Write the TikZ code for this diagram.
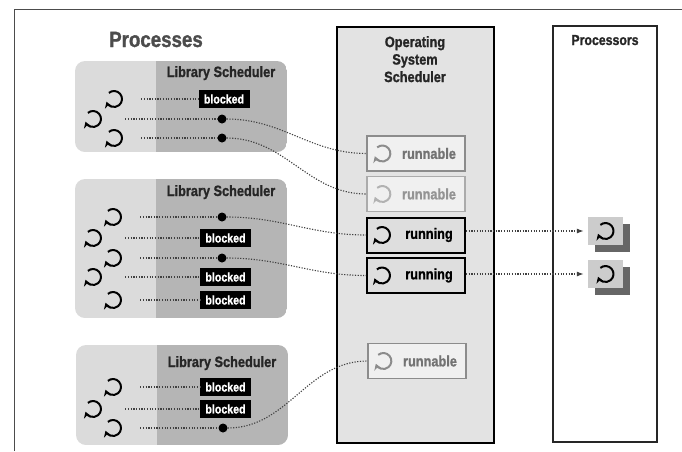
\documentclass[tikz,border=0pt]{standalone}
\usepackage{fontspec}
\newfontfamily\cond{Liberation Sans}[FakeStretch=0.85, BoldFeatures={FakeBold=1.2}]
\usetikzlibrary{arrows.meta,shadows}

\tikzset{
    link/.style={dash pattern=on 1.2pt off 1.5pt, line width=1.1pt, draw=black!75},
    curl/.style={line width=2pt, -{Stealth[length=6pt,width=7.5pt]}},
    pics/thread/.style={code={
        \draw[curl, #1] (130:8) arc[start angle=130, end angle=-160, radius=8];
        \node[circle, inner sep=0, minimum size=18pt] (-c) {};
    }},
    pics/thread/.default=black,
    dot/.style={circle, fill=black, inner sep=0, minimum size=9pt},
    blocked/.style={fill=black, text=white, inner sep=0, minimum width=51pt, minimum height=18pt, font=\cond\bfseries\fontsize{12.5}{14}\selectfont},
    libtitle/.style={anchor=base, text=black!85, font=\cond\bfseries\fontsize{15}{17}\selectfont},
    runbox/.style={draw=black!45, fill=black!6, line width=1.3pt, minimum width=98pt, minimum height=35pt, inner sep=0, text=black!55, font=\cond\bfseries\fontsize{15}{17}\selectfont},
    running/.style={runbox, draw=black, line width=2pt, fill=black!13, text=black},
    cpu/.style={fill=black!20, minimum width=35pt, minimum height=28pt, inner sep=0, drop shadow={shadow xshift=7pt, shadow yshift=-7pt, fill=black!60, opacity=1}},
}

\begin{document}
\begin{tikzpicture}[x=1pt, y=1pt]
    \useasboundingbox (0,0) rectangle (682,-451);
    \draw[black!70, line width=1pt] (14,-451) -- (14,-9) -- (682,-9);

    % columns
    \draw[fill=black!11, line width=1.8pt] (337,-27) rectangle (494,-443);
    \draw[fill=white, draw=black!85, line width=1.8pt] (553,-26) rectangle (657,-442);

    % process boxes
    \begin{scope}
        \clip[rounded corners=10pt] (75,-61) rectangle (287,-152);
        \fill[black!14] (75,-61) rectangle (156,-152);
        \fill[black!29] (156,-61) rectangle (287,-152);
    \end{scope}
    \begin{scope}
        \clip[rounded corners=10pt] (75,-179) rectangle (287,-318);
        \fill[black!14] (75,-179) rectangle (156,-318);
        \fill[black!29] (156,-179) rectangle (287,-318);
    \end{scope}
    \begin{scope}
        \clip[rounded corners=10pt] (76,-345) rectangle (288,-445);
        \fill[black!14] (76,-345) rectangle (157,-445);
        \fill[black!29] (157,-345) rectangle (288,-445);
    \end{scope}

    \node[anchor=base, text=black!70, font=\cond\bfseries\fontsize{22}{24}\selectfont] (proc) at (156,-47) {Processes};
    \node[libtitle] (lib1) at (221,-77) {Library Scheduler};
    \node[libtitle] (lib2) at (221,-196) {Library Scheduler};
    \node[libtitle] (lib3) at (222,-367) {Library Scheduler};
    \node[anchor=north, align=center, inner sep=0, text=black!85, font=\cond\bfseries\fontsize{15}{17.5}\selectfont] (oss) at (415,-36) {Operating\\System\\Scheduler};
    \node[anchor=base, text=black!85, font=\cond\bfseries\fontsize{14.5}{16}\selectfont] (cpus) at (605,-45) {Processors};

    % first process
    \pic (t11) at (114,-99) {thread};
    \pic (t12) at (93,-119) {thread};
    \pic (t13) at (114,-138) {thread};
    \node[blocked] (b11) at (224,-99) {blocked};
    \node[dot] (d12) at (222,-119) {};
    \node[dot] (d13) at (222,-138) {};
    \draw[link, shorten <=18pt] (t11-c) -- (b11);
    \draw[link, shorten <=23pt] (t12-c) -- (d12);
    \draw[link, shorten <=18pt] (t13-c) -- (d13);

    % second process
    \pic (t21) at (113,-217) {thread};
    \pic (t22) at (93,-238) {thread};
    \pic (t23) at (113,-258) {thread};
    \pic (t24) at (93,-277) {thread};
    \pic (t25) at (113,-300) {thread};
    \node[dot] (d21) at (222,-217) {};
    \node[blocked] (b22) at (225.5,-238) {blocked};
    \node[dot] (d23) at (222,-258) {};
    \node[blocked] (b24) at (225.5,-277) {blocked};
    \node[blocked] (b25) at (225.5,-300) {blocked};
    \draw[link, shorten <=18pt] (t21-c) -- (d21);
    \draw[link, shorten <=23pt] (t22-c) -- (b22);
    \draw[link, shorten <=18pt] (t23-c) -- (d23);
    \draw[link, shorten <=23pt] (t24-c) -- (b24);
    \draw[link, shorten <=18pt] (t25-c) -- (b25);

    % third process
    \pic (t31) at (113,-387) {thread};
    \pic (t32) at (93,-409) {thread};
    \pic (t33) at (113,-428) {thread};
    \node[blocked] (b31) at (225.5,-387) {blocked};
    \node[blocked] (b32) at (225.5,-409) {blocked};
    \node[dot] (d33) at (223,-428) {};
    \draw[link, shorten <=18pt] (t31-c) -- (b31);
    \draw[link, shorten <=23pt] (t32-c) -- (b32);
    \draw[link, shorten <=18pt] (t33-c) -- (d33);

    % kernel threads
    \node[runbox] (r1) at (416,-153.5) {\hspace{26pt}runnable};
    \node[runbox, draw=black!33, text=black!42] (r2) at (416,-194) {\hspace{26pt}runnable};
    \node[running] (u1) at (416,-235) {\hspace{26pt}running};
    \node[running] (u2) at (416,-275.5) {\hspace{26pt}running};
    \node[runbox] (r3) at (417,-361) {\hspace{26pt}runnable};
    \pic at ([xshift=16pt]r1.west) {thread=black!45};
    \pic at ([xshift=16pt]r2.west) {thread=black!30};
    \pic at ([xshift=16pt]u1.west) {thread};
    \pic at ([xshift=16pt]u2.west) {thread};
    \pic at ([xshift=16pt]r3.west) {thread=black!45};

    \draw[link] (d12) to[out=0, in=180] (r1);
    \draw[link] (d13) to[out=0, in=180] (r2);
    \draw[link] (d21) to[out=0, in=180] (u1);
    \draw[link] (d23) to[out=0, in=180] (u2);
    \draw[link] (d33) to[out=0, in=180] (r3);

    % processors
    \node[cpu] (p1) at (605.5,-231) {};
    \node[cpu] (p2) at (605.5,-274) {};
    \pic at (p1) {thread};
    \pic at (p2) {thread};
    \draw[link, -{Latex[length=7pt,width=5pt]}, shorten >=4pt] (u1.east |- p1) -- (p1);
    \draw[link, -{Latex[length=7pt,width=5pt]}, shorten >=4pt] (u2.east |- p2) -- (p2);
\end{tikzpicture}
\end{document}
